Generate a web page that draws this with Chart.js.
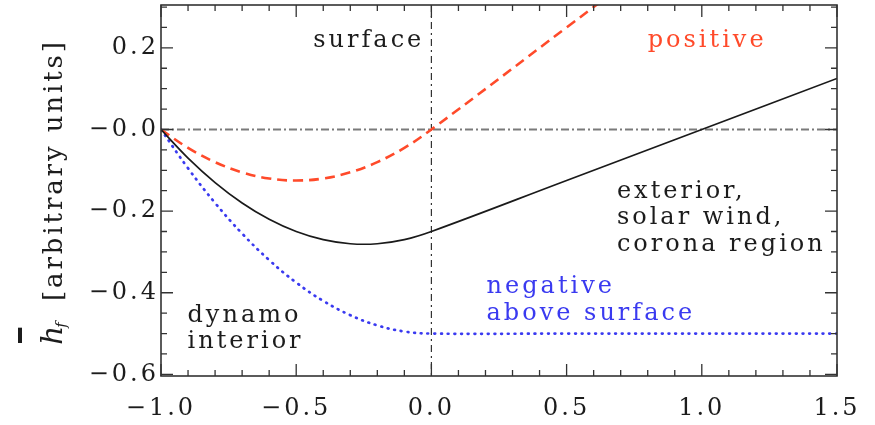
<!DOCTYPE html>
<html>
<head>
<meta charset="utf-8">
<script src="https://cdn.jsdelivr.net/npm/chart.js@4.4.1/dist/chart.umd.min.js"></script>
<style>
  html, body { margin: 0; padding: 0; background: #fff; }
  #wrap { width: 875px; height: 425px; position: relative; }
</style>
</head>
<body>
<div id="wrap"><canvas id="c"></canvas></div>
<script>
// Radial coordinate (surface at 0) and the three helicity profiles
const xs        = [-1.0, -0.9, -0.8, -0.7, -0.6, -0.5, -0.4, -0.3, -0.2, -0.1, 0.0, 0.5, 1.0, 1.5];
const hSolid    = [0, -0.07, -0.13, -0.18, -0.22, -0.25, -0.27, -0.28, -0.28, -0.27, -0.25, -0.125, 0, 0.125];
const hPositive = [0, -0.045, -0.08, -0.105, -0.12, -0.125, -0.12, -0.105, -0.08, -0.045, 0, 0.25, 0.5, 0.75];
const hNegative = [0, -0.095, -0.18, -0.255, -0.32, -0.375, -0.42, -0.455, -0.48, -0.495, -0.5, -0.5, -0.5, -0.5];

// Axis ticks and their labels
const xTicks = [-1.0, -0.5, 0.0, 0.5, 1.0, 1.5];
const xTickLabels = ['\u22121.0', '\u22120.5', '0.0', '0.5', '1.0', '1.5'];
const yTicks = [-0.6, -0.4, -0.2, 0.0, 0.2];
const yTickLabels = ['\u22120.6', '\u22120.4', '\u22120.2', '\u22120.0', '0.2'];

// Region notes: text lines anchored at (x, y) in data units
const notes = [
  { lines: ['surface'], x: -0.437, y: 0.203, color: '#1c1c1c' },
  { lines: ['positive'], x: 0.800, y: 0.201, color: '#ff4a2a' },
  { lines: ['exterior,', 'solar wind,', 'corona region'], x: 0.686, y: -0.167, color: '#1c1c1c' },
  { lines: ['negative', 'above surface'], x: 0.204, y: -0.401, color: '#3a3af0' },
  { lines: ['dynamo', 'interior'], x: -0.902, y: -0.471, color: '#1c1c1c' }
];

const FONT = "'DejaVu Serif', 'Liberation Serif', serif";
const pts = ys => xs.map((x, i) => ({ x: x, y: ys[i] }));

const framePlugin = {
  id: 'frame',
  beforeDraw(chart) {
    chart.ctx.letterSpacing = '3px';
  },
  beforeDatasetsDraw(chart) {
    const { ctx, chartArea: a, scales: { x, y } } = chart;
    ctx.save();
    ctx.letterSpacing = '0px';
    const y0 = y.getPixelForValue(0);
    ctx.strokeStyle = '#7a7a7a';
    ctx.lineWidth = 2;
    ctx.setLineDash([8, 3, 2, 3]);
    ctx.beginPath(); ctx.moveTo(a.left, y0); ctx.lineTo(a.right, y0); ctx.stroke();
    const x0 = x.getPixelForValue(0);
    ctx.strokeStyle = '#333';
    ctx.lineWidth = 1.2;
    ctx.setLineDash([7, 4, 2, 4]);
    ctx.beginPath(); ctx.moveTo(x0, a.top); ctx.lineTo(x0, a.bottom); ctx.stroke();
    ctx.restore();
  },
  afterDatasetsDraw(chart) {
    const { ctx, chartArea: a, scales: { x, y } } = chart;
    ctx.save();
    ctx.letterSpacing = '0px';
    ctx.setLineDash([]);
    ctx.strokeStyle = '#333';
    ctx.lineWidth = 1.6;
    ctx.strokeRect(a.left, a.top, a.right - a.left, a.bottom - a.top);

    ctx.lineWidth = 1.3;
    ctx.beginPath();
    // x ticks every 0.1, major every 0.5, on bottom and top
    for (let k = 0; k <= 25; k++) {
      const v = -1 + k * 0.1;
      const len = (k % 5 === 0) ? 12 : 6;
      const px = x.getPixelForValue(v);
      ctx.moveTo(px, a.bottom); ctx.lineTo(px, a.bottom - len);
      ctx.moveTo(px, a.top); ctx.lineTo(px, a.top + len);
    }
    // y ticks every 0.05, major every 0.2, on left and right
    for (let k = 0; k <= 18; k++) {
      const v = -0.6 + k * 0.05;
      const py = y.getPixelForValue(v);
      if (py < a.top - 0.5 || py > a.bottom + 0.5) continue;
      const len = (k % 4 === 0) ? 12 : 6;
      ctx.moveTo(a.left, py); ctx.lineTo(a.left + len, py);
      ctx.moveTo(a.right, py); ctx.lineTo(a.right - len, py);
    }
    ctx.stroke();

    // region notes
    ctx.font = '24px ' + FONT;
    ctx.letterSpacing = '3px';
    ctx.textAlign = 'left';
    ctx.textBaseline = 'alphabetic';
    notes.forEach(n => {
      ctx.fillStyle = n.color;
      const px = x.getPixelForValue(n.x);
      const py = y.getPixelForValue(n.y);
      n.lines.forEach((t, i) => ctx.fillText(t, px, py + i * 26.7));
    });
    ctx.restore();
  },
  afterDraw(chart) {
    const { ctx } = chart;
    // y-axis title: overbarred h with subscript f, then units
    ctx.save();
    ctx.translate(62, 345);
    ctx.rotate(-Math.PI / 2);
    ctx.fillStyle = '#1c1c1c';
    ctx.textBaseline = 'alphabetic';
    ctx.textAlign = 'left';
    ctx.letterSpacing = '0px';
    ctx.font = 'italic 30px ' + FONT;
    ctx.fillText('h', 0, 0);
    const hw = ctx.measureText('h').width;
    ctx.fillRect(2, -44, hw - 4, 4);
    ctx.font = 'italic 15px ' + FONT;
    ctx.fillText('f', hw - 2, 4);
    ctx.font = '26px ' + FONT;
    ctx.letterSpacing = '2.9px';
    ctx.fillText('[arbitrary units]', 44, 0);
    ctx.restore();
  }
};

new Chart(document.getElementById('c'), {
  type: 'line',
  data: {
    datasets: [
      {
        data: pts(hSolid),
        borderColor: '#1a1a1a',
        borderWidth: 1.7,
        pointRadius: 0,
        tension: 0.4,
        clip: 0
      },
      {
        data: pts(hPositive),
        borderColor: '#ff4a2a',
        borderWidth: 2.6,
        borderDash: [10, 6],
        pointRadius: 0,
        tension: 0.4,
        clip: 0
      },
      {
        data: pts(hNegative),
        borderColor: '#3a3af0',
        borderWidth: 2.7,
        borderDash: [0.8, 5.9],
        borderCapStyle: 'round',
        pointRadius: 0,
        tension: 0.4,
        clip: 0
      }
    ]
  },
  options: {
    responsive: true,
    maintainAspectRatio: false,
    animation: false,
    events: [],
    layout: { padding: { top: 5, right: 38, left: 0, bottom: 0 } },
    plugins: { legend: { display: false }, tooltip: { enabled: false } },
    scales: {
      x: {
        type: 'linear',
        min: -1.0,
        max: 1.5,
        afterBuildTicks: s => { s.ticks = xTicks.map(v => ({ value: v })); },
        afterFit: s => { s.height = 49; s.paddingLeft = 0; s.paddingRight = 0; },
        grid: { display: false, drawTicks: false },
        border: { display: false },
        ticks: {
          callback: (v, i) => xTickLabels[i],
          font: { family: FONT, size: 24 },
          color: '#1c1c1c',
          padding: 18,
          maxRotation: 0,
          autoSkip: false
        }
      },
      y: {
        type: 'linear',
        min: -0.604,
        max: 0.305,
        afterBuildTicks: s => { s.ticks = yTicks.map(v => ({ value: v })); },
        afterFit: s => { s.width = 161; s.paddingTop = 0; s.paddingBottom = 0; },
        grid: { display: false, drawTicks: false },
        border: { display: false },
        ticks: {
          callback: (v, i) => yTickLabels[i],
          font: { family: FONT, size: 24 },
          color: '#1c1c1c',
          padding: 2,
          autoSkip: false
        }
      }
    }
  },
  plugins: [framePlugin]
});
</script>
</body>
</html>
